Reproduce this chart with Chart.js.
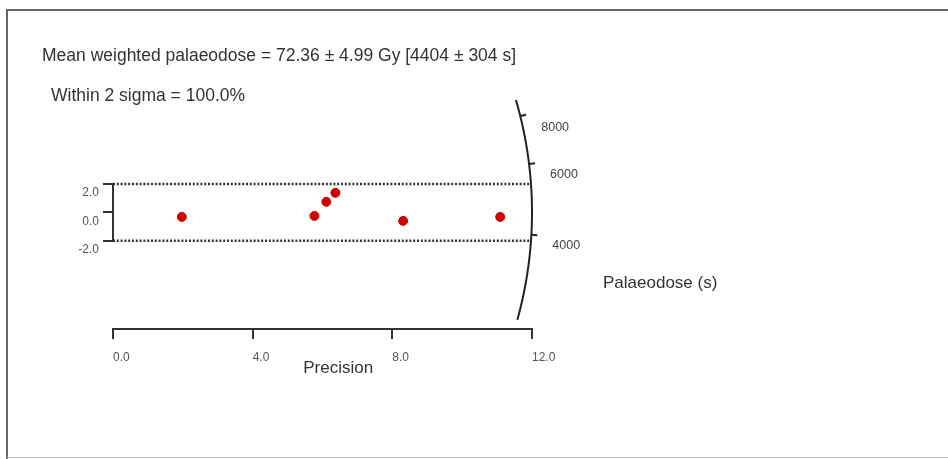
<!DOCTYPE html>
<html lang="en">
<head>
    <meta charset="UTF-8">
    <title>Radial plot - palaeodose</title>
    <script src="https://cdn.jsdelivr.net/npm/chart.js@4"></script>
    <style>
        body { margin: 0; background: #fff; }
        #wrap { position: relative; width: 948px; height: 459px; }
    </style>
</head>
<body>
    <div id="wrap"><canvas id="chartCanvas" width="948" height="459"></canvas></div>

    <script>
        // values
        const precision = [1.97, 5.77, 6.11, 6.37, 8.31, 11.09];
        const standardised = [-0.32, -0.25, 0.74, 1.37, -0.6, -0.32];
        const xTicks = [0, 4, 8, 12];
        const yTicks = [-2, 0, 2];
        const radialTickLabels = [4000, 6000, 8000];
        const radialTickY = [-1.58, 3.40, 6.77];   // where each tick meets the arc
        const titleText = "Mean weighted palaeodose = 72.36 \u00b1 4.99 Gy [4404 \u00b1 304 s]";
        const subtitleText = "Within 2 sigma = 100.0%";

        // arc (radial axis) as an ellipse in data units
        const arcRx = 12.0, arcRy = 28.8;
        const arcTop = 7.9, arcBottom = -7.55;

        function arcX(y) {
            return arcRx * Math.cos(Math.asin(y / arcRy));
        }

        const FONT = "'Liberation Sans', Arial, sans-serif";

        const decorations = {
            id: 'decorations',
            beforeDraw(chart) {
                const ctx = chart.ctx;
                ctx.save();
                ctx.strokeStyle = '#666';
                ctx.lineWidth = 2;
                ctx.beginPath();
                ctx.moveTo(948, 10);
                ctx.lineTo(7, 10);
                ctx.lineTo(7, 459);
                ctx.stroke();
                ctx.strokeStyle = '#bbb';
                ctx.lineWidth = 1;
                ctx.beginPath();
                ctx.moveTo(7, 457.5);
                ctx.lineTo(948, 457.5);
                ctx.stroke();
                ctx.restore();
            },
            afterDraw(chart) {
                const ctx = chart.ctx;
                const xs = chart.scales.x, ys = chart.scales.y;
                ctx.save();

                // radial axis arc
                ctx.strokeStyle = '#222';
                ctx.lineWidth = 2;
                ctx.beginPath();
                const t0 = Math.asin(arcBottom / arcRy), t1 = Math.asin(arcTop / arcRy);
                for (let i = 0; i <= 60; i++) {
                    const t = t0 + (t1 - t0) * i / 60;
                    const px = xs.getPixelForValue(arcRx * Math.cos(t));
                    const py = ys.getPixelForValue(arcRy * Math.sin(t));
                    if (i === 0) ctx.moveTo(px, py); else ctx.lineTo(px, py);
                }
                ctx.stroke();

                // radial ticks + labels
                ctx.font = '12.5px ' + FONT;
                ctx.fillStyle = '#444';
                ctx.textAlign = 'left';
                ctx.textBaseline = 'middle';
                radialTickY.forEach((y, i) => {
                    const px = xs.getPixelForValue(arcX(y));
                    const py = ys.getPixelForValue(y);
                    const ox = xs.getPixelForValue(0), oy = ys.getPixelForValue(0);
                    const a = Math.atan2(py - oy, px - ox);
                    ctx.beginPath();
                    ctx.moveTo(px, py);
                    ctx.lineTo(px + 6 * Math.cos(a), py + 6 * Math.sin(a));
                    ctx.stroke();
                    ctx.fillText(String(radialTickLabels[i]), px + 21, py + 11);
                });

                // titles and axis names
                ctx.fillStyle = '#333';
                ctx.font = '17.5px ' + FONT;
                ctx.fillText(titleText, 42, 56);
                ctx.fillText(subtitleText, 51, 96);
                ctx.font = '17px ' + FONT;
                ctx.fillText('Palaeodose (s)', 603, ys.getPixelForValue(-5.0));
                ctx.textAlign = 'center';
                ctx.fillText('Precision', xs.getPixelForValue(6.45), chart.chartArea.bottom + 39);
                ctx.restore();
            }
        };

        const lineStyle = { showLine: true, pointRadius: 0, borderColor: '#333', borderWidth: 2, clip: false, fill: false };

        new Chart(document.getElementById('chartCanvas').getContext('2d'), {
            type: 'scatter',
            data: {
                datasets: [
                    {
                        label: 'Aliquots',
                        data: precision.map((x, i) => ({ x: x, y: standardised[i] })),
                        backgroundColor: '#d10000',
                        borderColor: '#d10000',
                        pointRadius: 4.5,
                        clip: false
                    },
                    Object.assign({ data: [{ x: 0, y: -2 }, { x: 0, y: 2 }] }, lineStyle),
                    Object.assign({ data: [{ x: 0, y: 2 }, { x: arcX(2), y: 2 }] }, lineStyle, { borderDash: [2, 1.8], borderWidth: 2.5 }),
                    Object.assign({ data: [{ x: 0, y: -2 }, { x: arcX(-2), y: -2 }] }, lineStyle, { borderDash: [2, 1.8], borderWidth: 2.5 })
                ]
            },
            options: {
                responsive: false,
                animation: false,
                layout: { padding: { left: 0, right: 416, top: 95, bottom: 90 } },
                plugins: { legend: { display: false }, tooltip: { enabled: false } },
                scales: {
                    x: {
                        type: 'linear',
                        min: 0, max: 12,
                        afterBuildTicks: s => { s.ticks = xTicks.map(v => ({ value: v })); },
                        afterFit: s => { s.height = 40; },
                        ticks: {
                            callback: v => v.toFixed(1),
                            align: 'start',
                            maxRotation: 0,
                            autoSkip: false,
                            padding: 11,
                            color: '#555',
                            font: { family: FONT, size: 12 }
                        },
                        grid: { drawOnChartArea: false, tickLength: 10, color: '#333', lineWidth: 2 },
                        border: { color: '#333', width: 2 }
                    },
                    y: {
                        type: 'linear',
                        min: -8.2, max: 8.25,
                        afterBuildTicks: s => { s.ticks = yTicks.map(v => ({ value: v })); },
                        afterFit: s => { s.width = 113; },
                        ticks: {
                            callback: v => v.toFixed(1),
                            labelOffset: 9,
                            padding: 4,
                            autoSkip: false,
                            color: '#555',
                            font: { family: FONT, size: 12 }
                        },
                        grid: { drawOnChartArea: false, tickLength: 10, color: '#333', lineWidth: 2 },
                        border: { display: false }
                    }
                }
            },
            plugins: [decorations]
        });
    </script>
</body>
</html>
